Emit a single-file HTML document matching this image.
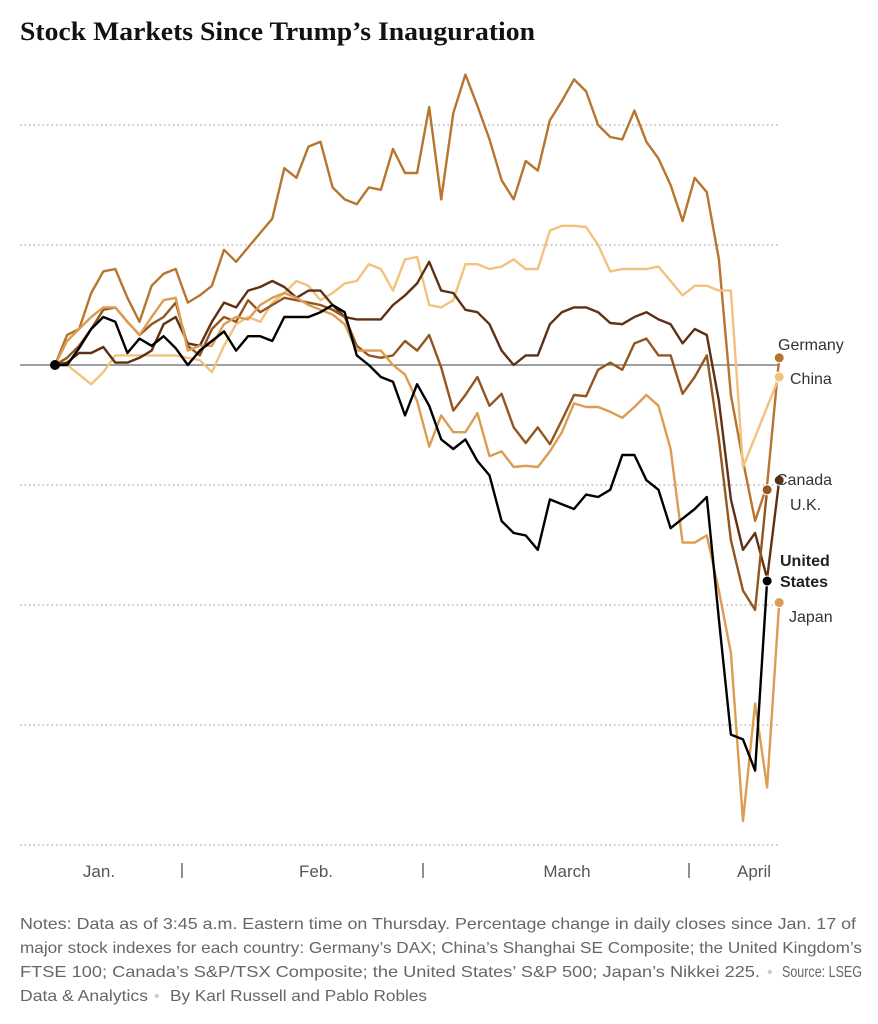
<!DOCTYPE html>
<html><head><meta charset="utf-8"><style>
html,body{margin:0;padding:0;background:#fff;width:878px;height:1024px;overflow:hidden}
svg{display:block}
</style></head><body>
<svg id="chart" width="878" height="1024" viewBox="0 0 878 1024" xmlns="http://www.w3.org/2000/svg">
<text x="20" y="40" font-family="Liberation Serif, serif" font-weight="bold" font-size="26" fill="#121212" textLength="515" lengthAdjust="spacingAndGlyphs">Stock Markets Since Trump’s Inauguration</text>
<g id="grid"></g>
<g id="series"></g>
<g id="labels"></g>
<g font-family="Liberation Sans, sans-serif" font-size="17" fill="#555">
<text x="99" y="877" text-anchor="middle">Jan.</text>
<text x="316" y="877" text-anchor="middle">Feb.</text>
<text x="567" y="877" text-anchor="middle">March</text>
<text x="754" y="877" text-anchor="middle">April</text>
<line x1="182" y1="863" x2="182" y2="878" stroke="#555" stroke-width="1.3"/>
<line x1="423" y1="863" x2="423" y2="878" stroke="#555" stroke-width="1.3"/>
<line x1="689" y1="863" x2="689" y2="878" stroke="#555" stroke-width="1.3"/>
</g>
<g font-family="Liberation Sans, sans-serif" font-size="16" fill="#666">
<text x="20" y="929" textLength="836" lengthAdjust="spacingAndGlyphs">Notes: Data as of 3:45 a.m. Eastern time on Thursday. Percentage change in daily closes since Jan. 17 of</text>
<text x="20" y="953" textLength="842" lengthAdjust="spacingAndGlyphs">major stock indexes for each country: Germany’s DAX; China’s Shanghai SE Composite; the United Kingdom’s</text>
<text x="20" y="977" textLength="740" lengthAdjust="spacingAndGlyphs">FTSE 100; Canada’s S&amp;P/TSX Composite; the United States’ S&amp;P 500; Japan’s Nikkei 225.</text>
<text x="767" y="977" fill="#ccc">•</text>
<text x="782" y="977" textLength="80" lengthAdjust="spacingAndGlyphs">Source: LSEG</text>
<text x="20" y="1001" textLength="128" lengthAdjust="spacingAndGlyphs">Data &amp; Analytics</text>
<text x="154" y="1001" fill="#ccc">•</text>
<text x="170" y="1001" textLength="257" lengthAdjust="spacingAndGlyphs">By Karl Russell and Pablo Robles</text>
</g>
</svg>
<script>
const countries = ["Germany","China","U.K.","Canada","United States","Japan"];
const germany = [0,1.25,1.5,3.0,3.9,4.0,2.8,1.8,3.3,3.8,4.0,2.6,2.9,3.3,4.8,4.3,4.9,5.5,6.1,8.2,7.8,9.1,9.3,7.4,6.9,6.7,7.4,7.3,9.0,8.0,8.0,10.75,6.9,10.5,12.1,10.8,9.4,7.7,6.9,8.5,8.1,10.2,11.0,11.9,11.4,10.0,9.5,9.4,10.6,9.3,8.6,7.5,6.0,7.8,7.2,4.4,-1.25,-4.0,-6.5,-5.0,0.3];
const china = [0,0,-0.4,-0.8,-0.3,0.4,0.4,0.4,0.4,0.4,0.4,0.3,0.2,-0.3,0.8,1.7,2.0,1.8,2.6,3.0,3.5,3.3,2.7,3.0,3.4,3.5,4.2,4.0,3.1,4.4,4.5,2.5,2.4,2.7,4.2,4.2,4.0,4.1,4.4,4.0,4.0,5.6,5.8,5.8,5.75,5.0,3.9,4.0,4.0,4.0,4.1,3.5,2.9,3.3,3.3,3.1,3.1,-4.25,-3.0,-1.75,-0.5];
const uk = [0,0.1,0.5,0.5,0.75,0.1,0.1,0.3,0.6,1.7,2.0,0.9,0.8,1.8,2.6,2.4,3.1,3.25,3.5,3.25,2.8,3.1,3.1,2.5,2.0,1.9,1.9,1.9,2.5,2.9,3.4,4.3,3.1,3.0,2.3,2.2,1.7,0.6,0,0.4,0.4,1.7,2.2,2.4,2.4,2.2,1.75,1.7,2.0,2.2,1.9,1.7,0.9,1.5,1.25,-1.5,-5.6,-7.7,-7.0,-8.9,-4.8];
const canada = [0,0.3,0.8,1.5,2.3,2.4,1.8,1.25,1.7,2.0,2.6,0.8,0.4,1.5,2.0,1.8,2.7,2.2,2.5,2.8,2.7,2.6,2.5,2.3,2.0,0.8,0.4,0.3,0.4,1.0,0.6,1.25,-0.1,-1.9,-1.25,-0.5,-1.7,-1.2,-2.6,-3.25,-2.6,-3.3,-2.3,-1.25,-1.3,-0.2,0.1,-0.2,0.9,1.1,0.4,0.4,-1.2,-0.5,0.4,-3.1,-7.3,-9.4,-10.2,-5.2];
const unitedStates = [0,0,0.7,1.5,2.0,1.8,0.5,1.1,0.8,1.2,0.7,0.0,0.6,1.0,1.4,0.6,1.2,1.2,1.0,2.0,2.0,2.0,2.2,2.5,2.2,0.4,0.0,-0.5,-0.7,-2.1,-0.8,-1.7,-3.1,-3.5,-3.1,-4.0,-4.6,-6.5,-7.0,-7.1,-7.7,-5.6,-5.8,-6.0,-5.4,-5.5,-5.2,-3.75,-3.75,-4.8,-5.2,-6.8,-6.4,-6.0,-5.5,-10.6,-15.4,-15.6,-16.9,-9.0];
const japan = [0,1.0,1.5,2.0,2.4,2.4,1.8,1.25,2.0,2.7,2.8,0.6,0.8,0.8,1.7,2.0,1.9,2.5,2.8,3.0,2.8,2.5,2.3,2.1,1.7,0.6,0.6,0.6,0,-0.4,-1.5,-3.4,-2.1,-2.8,-2.8,-2.0,-3.8,-3.6,-4.25,-4.2,-4.25,-3.6,-2.8,-1.6,-1.75,-1.75,-1.95,-2.2,-1.75,-1.25,-1.7,-3.5,-7.4,-7.4,-7.1,-9.4,-12.0,-19.0,-14.1,-17.6,-9.9];
const gridTicks = [10,5,-5,-10,-15,-20];

const NS = "http://www.w3.org/2000/svg";
const x = i => 55 + i * 12.07;
const y = v => 365 - v * 24;
function mk(tag, attrs, parent){const e=document.createElementNS(NS,tag);for(const k in attrs)e.setAttribute(k,attrs[k]);parent.appendChild(e);return e;}
const grid = document.getElementById('grid');
gridTicks.forEach(t=>{
  const l = mk('line',{x1:20,x2:780,y1:y(t),y2:y(t),stroke:'#aaa','stroke-width':1.2,'stroke-dasharray':'1.5 3'},grid);
  
  
});
const base = mk('line',{x1:20,x2:780,y1:y(0),y2:y(0),stroke:'#666','stroke-width':1.2},grid);



const seriesData = [germany, china, uk, canada, japan, unitedStates];
const seriesNames = ["germany","china","uk","canada","japan","united-states"];
const colors = ["#b8752f","#f2c27e","#5e3115","#94561f","#dc9c52","#000000"];
const sg = document.getElementById('series');
seriesData.forEach((arr,si)=>{
  const d = arr.map((v,i)=>(i?'L':'M')+x(i).toFixed(1)+','+y(v).toFixed(1)).join('');
  const p = mk('path',{d:d,fill:'none',stroke:colors[si],'stroke-width':2.4,'stroke-linejoin':'round'},sg);
  
  
  const n = arr.length-1;
  const c = mk('circle',{cx:x(n),cy:y(arr[n]),r:5,fill:colors[si],stroke:'#fff','stroke-width':1},sg);
  
  
});
const st = mk('circle',{cx:x(0),cy:y(0),r:5,fill:'#000'},sg);



const lg = document.getElementById('labels');
const labelDefs = [["Germany",778,350,"normal"],["China",790,384,"normal"],["Canada",776,485,"normal"],["U.K.",790,510,"normal"],["United",780,566,"bold"],["States",780,587,"bold"],["Japan",789,622,"normal"]];
labelDefs.forEach(l=>{
  const t = mk('text',{x:l[1],y:l[2],'font-family':'Liberation Sans, sans-serif','font-size':16,'font-weight':l[3],fill:l[3]==='bold'?'#222':'#333'},lg);
  t.textContent = l[0];
  
  
});
</script>
</body></html>
